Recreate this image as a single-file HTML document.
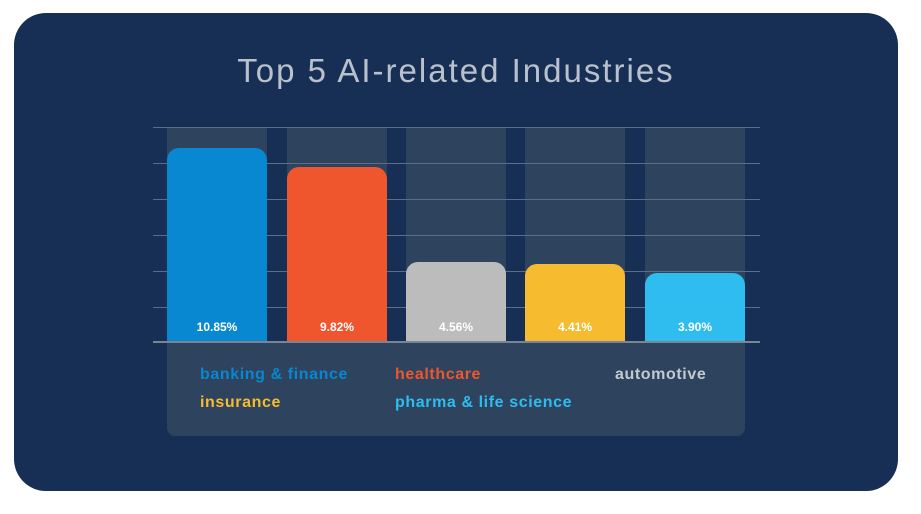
<!DOCTYPE html>
<html><head><style>
body{margin:0;width:921px;height:514px;background:#fff;position:relative;overflow:hidden;font-family:"Liberation Sans",sans-serif}
.card{position:absolute;left:14px;top:13px;width:884px;height:478px;background:#172f55;border-radius:32px}
.col{position:absolute;top:127px;height:215px;width:100px;background:#2d435e}
.grid{position:absolute;left:153px;width:607px;height:1px;background:#5a6e8a}
.bar{position:absolute;width:100px;border-radius:12px 12px 0 0;bottom:172px}
.lbl{position:absolute;bottom:8px;width:100%;text-align:center;color:#fff;font-weight:bold;font-size:12px}
.leg{position:absolute;left:167px;top:343px;width:578px;height:93px;background:#2d435e;border-radius:0 0 8px 8px}
.t{position:absolute;font-weight:bold;font-size:16px;letter-spacing:0.6px}
</style></head><body>
<div class="card"></div>
<div style="position:absolute;left:0;width:912px;top:52px;text-align:center;color:#b9c1cc;font-size:33px;letter-spacing:2px">Top 5 AI-related Industries</div>
<div class="col" style="left:167px"></div><div class="col" style="left:287px"></div><div class="col" style="left:406px"></div><div class="col" style="left:525px"></div><div class="col" style="left:645px"></div>
<div class="grid" style="top:127px"></div><div class="grid" style="top:163px"></div><div class="grid" style="top:199px"></div><div class="grid" style="top:235px"></div><div class="grid" style="top:271px"></div><div class="grid" style="top:307px"></div>
<div class="bar" style="left:167px;top:148px;height:194px;background:#0788d0"><div class="lbl">10.85%</div></div>
<div class="bar" style="left:287px;top:167px;height:175px;background:#f0562e"><div class="lbl">9.82%</div></div>
<div class="bar" style="left:406px;top:262px;height:80px;background:#bcbcbc"><div class="lbl">4.56%</div></div>
<div class="bar" style="left:525px;top:264px;height:78px;background:#f6bb2f"><div class="lbl">4.41%</div></div>
<div class="bar" style="left:645px;top:273px;height:69px;background:#2fbdef"><div class="lbl">3.90%</div></div>
<div style="position:absolute;left:153px;top:341px;width:607px;height:2px;background:#7a8594"></div>
<div class="leg"></div>
<div class="t" style="left:200px;top:366px;color:#0788d0">banking &amp; finance</div>
<div class="t" style="left:395px;top:366px;color:#f0562e">healthcare</div>
<div class="t" style="left:615px;top:366px;color:#c5c9cf">automotive</div>
<div class="t" style="left:200px;top:394px;color:#f6bb2f">insurance</div>
<div class="t" style="left:395px;top:394px;color:#2fbdef">pharma &amp; life science</div>
</body></html>
